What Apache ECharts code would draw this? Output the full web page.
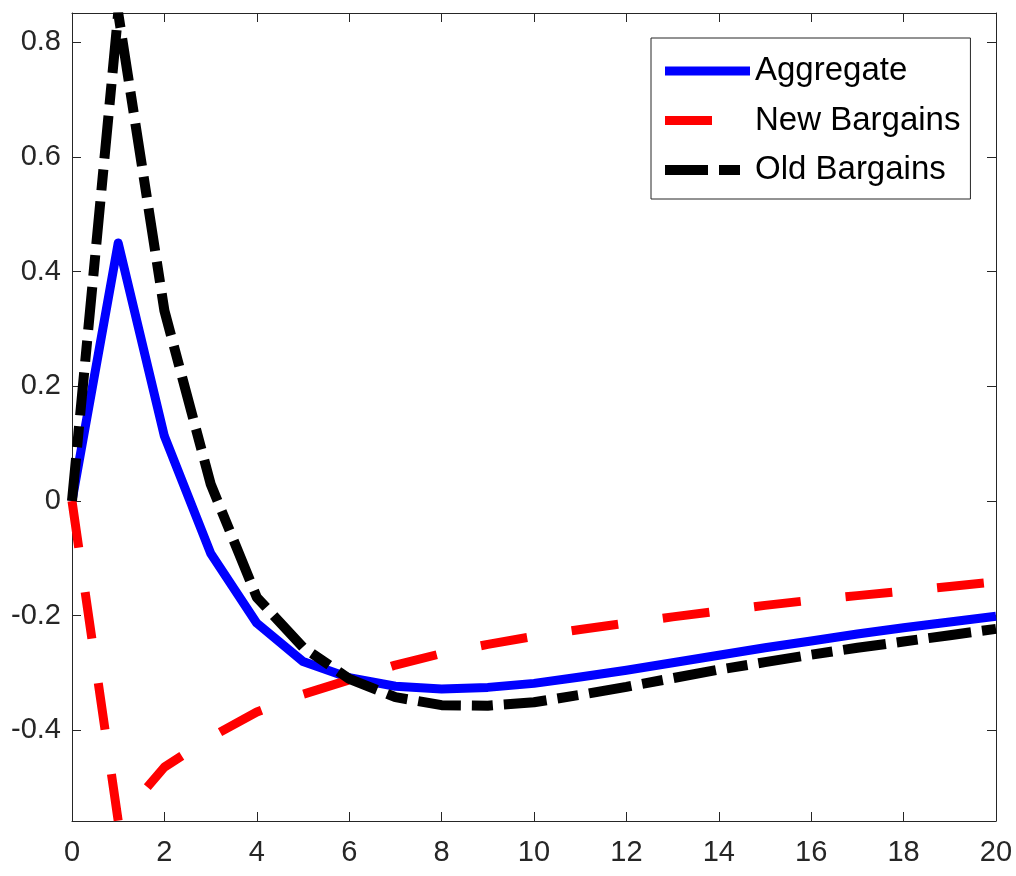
<!DOCTYPE html>
<html>
<head>
<meta charset="utf-8">
<script src="https://cdn.jsdelivr.net/npm/echarts@6/dist/echarts.min.js"></script>
<style>
html, body { margin: 0; padding: 0; background: #fff; }
#chart { width: 1016px; height: 876px; }
</style>
</head>
<body>
<div id="chart"></div>
<script>
// horizon (periods after the shock)
const periods = [0, 1, 2, 3, 4, 5, 6, 7, 8, 9, 10, 11, 12, 13, 14, 15, 16, 17, 18, 19, 20];
const aggregate = [0, 0.45, 0.113, -0.091, -0.213, -0.28, -0.308, -0.323, -0.328, -0.325, -0.318,
    -0.307, -0.295, -0.282, -0.269, -0.256, -0.244, -0.232, -0.221, -0.211, -0.201];
const newBargains = [0, -0.558, -0.464, -0.412, -0.368, -0.337, -0.312, -0.286, -0.266, -0.25, -0.236,
    -0.224, -0.213, -0.202, -0.192, -0.182, -0.173, -0.165, -0.157, -0.149, -0.141];
const oldBargains = [0, 0.851, 0.332, 0.03, -0.168, -0.255, -0.31, -0.342, -0.356, -0.357, -0.351,
    -0.338, -0.324, -0.309, -0.294, -0.281, -0.268, -0.256, -0.245, -0.234, -0.223];
const seriesNames = ['Aggregate', 'New Bargains', 'Old Bargains'];
const yTicks = [-0.4, -0.2, 0, 0.2, 0.4, 0.6, 0.8];

const axisColor = '#262626';
const font = '"Liberation Sans", Arial, sans-serif';

const chart = echarts.init(document.getElementById('chart'));

const pairs = values => periods.map((p, i) => [p, values[i]]);

const xBase = {
    type: 'value',
    min: 0,
    max: 20,
    interval: 2,
    splitLine: { show: false },
    axisLine: { onZero: false, lineStyle: { color: axisColor, width: 1 } },
    axisTick: { inside: true, length: 9, lineStyle: { color: axisColor } }
};

const yBase = {
    type: 'value',
    min: -0.558,
    max: 0.851,
    splitLine: { show: false },
    axisLine: { show: true, onZero: false, lineStyle: { color: axisColor, width: 1 } },
    axisTick: { show: true, inside: true, length: 9, customValues: yTicks, lineStyle: { color: axisColor } }
};

const option = {
    animation: false,
    backgroundColor: '#fff',
    grid: { left: 72, right: 20, top: 13, bottom: 55, containLabel: false },
    xAxis: [
        Object.assign({}, xBase, {
            position: 'bottom',
            axisLabel: { margin: 17, color: axisColor, fontSize: 29, fontFamily: font }
        }),
        Object.assign({}, xBase, { position: 'top', axisLabel: { show: false } })
    ],
    yAxis: [
        Object.assign({}, yBase, {
            position: 'left',
            axisLabel: {
                margin: 11,
                color: axisColor,
                fontSize: 29,
                fontFamily: font,
                customValues: yTicks,
                formatter: v => (Math.abs(v) < 1e-9 ? '0' : v.toFixed(1))
            }
        }),
        Object.assign({}, yBase, { position: 'right', axisLabel: { show: false } })
    ],
    legend: {
        orient: 'vertical',
        left: 651,
        top: 38,
        padding: [14, 10, 10, 9],
        itemWidth: 85,
        itemHeight: 10,
        itemGap: 11.5,
        itemTextGap: 8,
        borderColor: axisColor,
        borderWidth: 1,
        backgroundColor: '#fff',
        lineStyle: { width: 'inherit', type: 'inherit', cap: 'butt' },
        itemStyle: { opacity: 0 },
        textStyle: { fontSize: 33, lineHeight: 38, color: '#000', fontFamily: font },
        data: seriesNames
    },
    series: [
        {
            name: seriesNames[0],
            type: 'line',
            data: pairs(aggregate),
            symbol: 'none',
            color: '#0000ff',
            lineStyle: { color: '#0000ff', width: 9, join: 'round', cap: 'butt' }
        },
        {
            name: seriesNames[1],
            type: 'line',
            data: pairs(newBargains),
            symbol: 'none',
            color: '#ff0000',
            lineStyle: { color: '#ff0000', width: 9, type: [47, 45], cap: 'butt' }
        },
        {
            name: seriesNames[2],
            type: 'line',
            data: pairs(oldBargains),
            symbol: 'none',
            color: '#000000',
            lineStyle: { color: '#000000', width: 10, type: [43, 11, 21, 11], cap: 'butt' }
        }
    ]
};

chart.setOption(option);
</script>
</body>
</html>
